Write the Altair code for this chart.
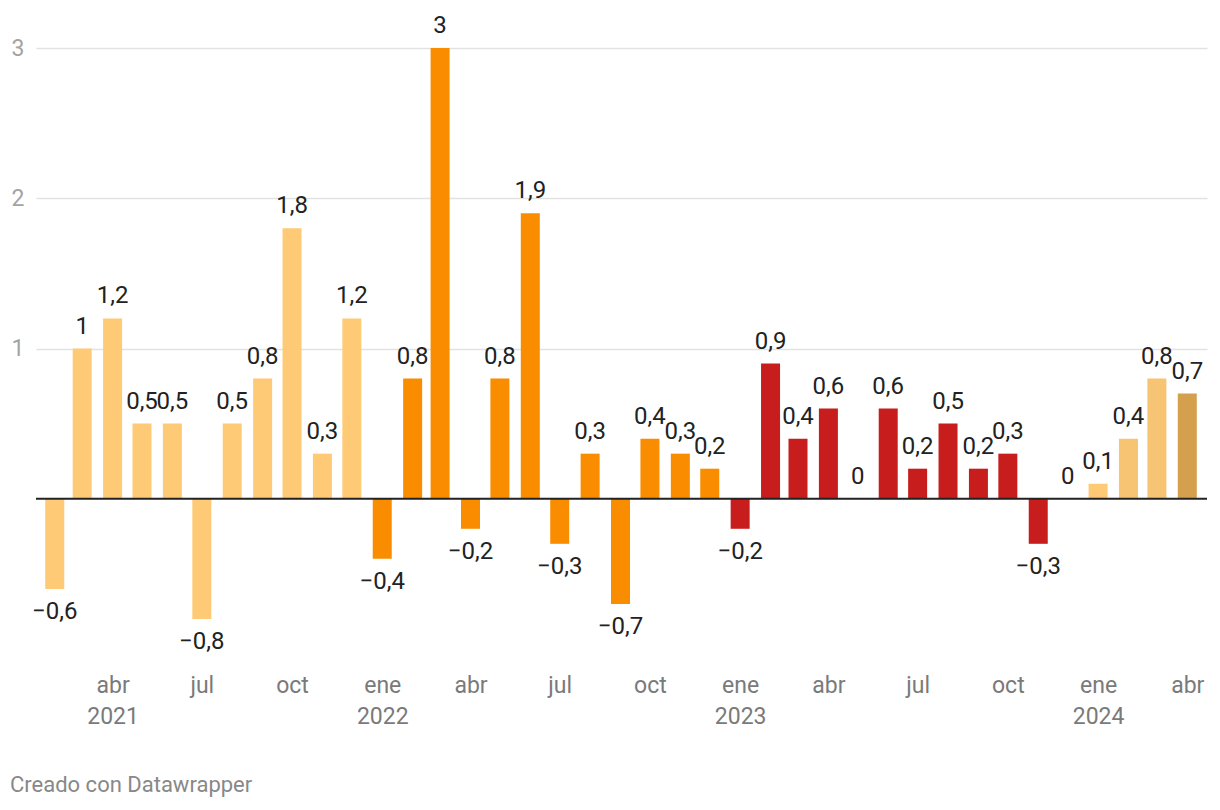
import altair as alt
import pandas as pd

meses = [
    "2021-02", "2021-03", "2021-04", "2021-05", "2021-06", "2021-07", "2021-08", "2021-09", "2021-10", "2021-11", "2021-12",
    "2022-01", "2022-02", "2022-03", "2022-04", "2022-05", "2022-06", "2022-07", "2022-08", "2022-09", "2022-10", "2022-11", "2022-12",
    "2023-01", "2023-02", "2023-03", "2023-04", "2023-05", "2023-06", "2023-07", "2023-08", "2023-09", "2023-10", "2023-11", "2023-12",
    "2024-01", "2024-02", "2024-03", "2024-04",
]
valores = [
    -0.6, 1, 1.2, 0.5, 0.5, -0.8, 0.5, 0.8, 1.8, 0.3, 1.2,
    -0.4, 0.8, 3, -0.2, 0.8, 1.9, -0.3, 0.3, -0.7, 0.4, 0.3, 0.2,
    -0.2, 0.9, 0.4, 0.6, 0, 0.6, 0.2, 0.5, 0.2, 0.3, -0.3, 0,
    0.1, 0.4, 0.8, 0.7,
]
grupos = (["a"] * 11 + ["b"] * 12 + ["c"] * 12 + ["a", "d", "d", "e"])

grupo_dom = ["a", "b", "c", "d", "e"]
grupo_col = ["#ffca76", "#fa8c00", "#c71e1d", "#f6c473", "#d4a04e"]

tick_vals = ["2021-04", "2021-07", "2021-10", "2022-01", "2022-04", "2022-07", "2022-10",
             "2023-01", "2023-04", "2023-07", "2023-10", "2024-01", "2024-04"]


def fmt(v):
    s = f"{v:g}".replace(".", ",")
    return s.replace("-", "\u2212")


df = pd.DataFrame({
    "fecha": [m + "-01T00:00:00" for m in meses],
    "valor": valores,
    "grupo": grupos,
    "etiqueta": [fmt(v) for v in valores],
})

FONT = "Roboto"
YDOM = [-1.1, 3.1]


def dt(s, d=1):
    y, m = s.split("-")
    return alt.DateTime(year=int(y), month=int(m), date=d)


label_expr = (
    "(month(datum.value) == 0 || (year(datum.value) == 2021 && month(datum.value) == 3)) ? "
    "[['ene','feb','mar','abr','may','jun','jul','ago','sep','oct','nov','dic'][month(datum.value)], '' + year(datum.value)] : "
    "['ene','feb','mar','abr','may','jun','jul','ago','sep','oct','nov','dic'][month(datum.value)]"
)

x = alt.X(
    "fecha:T",
    scale=alt.Scale(domain=[dt("2021-01", 18), dt("2024-04", 16)], nice=False),
    axis=alt.Axis(
        values=[dt(t) for t in tick_vals],
        labelExpr=label_expr,
        title=None,
        domain=False,
        ticks=False,
        tickSize=0,
        grid=False,
        labelFont=FONT,
        labelFontSize=23,
        labelColor="#7a7a7a",
        labelPadding=10,
        labelLineHeight=31,
        labelFlush=False,
        labelOverlap=False,
    ),
)
y = alt.Y(
    "valor:Q",
    scale=alt.Scale(domain=YDOM, nice=False, zero=False),
    axis=alt.Axis(
        values=[1, 2, 3],
        format="d",
        title=None,
        domain=False,
        ticks=False,
        tickSize=0,
        grid=True,
        gridColor="#e2e2e2",
        gridWidth=1.5,
        labelFont=FONT,
        labelFontSize=23,
        labelColor="#a3a3a3",
        labelAlign="left",
        labelPadding=25,
        labelBaseline="middle",
    ),
)

base = alt.Chart(df)

bars = base.mark_bar(width=19).encode(
    x=x,
    y=y,
    y2=alt.datum(0),
    color=alt.Color("grupo:N", scale=alt.Scale(domain=grupo_dom, range=grupo_col), legend=None),
)

zero = alt.Chart(pd.DataFrame({"z": [0]})).mark_rule(color="#222222", strokeWidth=2).encode(
    y=alt.Y("z:Q", scale=alt.Scale(domain=YDOM, nice=False, zero=False))
)

pos_text = base.transform_filter("datum.valor >= 0").mark_text(
    font=FONT, fontSize=24, color="#222222", baseline="alphabetic", dy=-15
).encode(x=x, y=y, text="etiqueta:N")

neg_text = base.transform_filter("datum.valor < 0").mark_text(
    font=FONT, fontSize=24, color="#222222", baseline="alphabetic", dy=30
).encode(x=x, y=y, text="etiqueta:N")

footer = alt.Chart(pd.DataFrame({"t": ["Creado con Datawrapper"]})).mark_text(
    font=FONT, fontSize=22, color="#888888", align="left", baseline="middle"
).encode(x=alt.value(-26), y=alt.value(752), text="t:N")

chart = alt.layer(bars, zero, pos_text, neg_text, footer).properties(
    width=1171,
    height=631,
    background="white",
    autosize=alt.AutoSizeParams(type="none"),
    padding={"left": 28, "top": 25, "right": 4, "bottom": 136},
).configure_view(stroke=None)

chart.save("out.html", embed_options={"renderer": "svg", "actions": False})
